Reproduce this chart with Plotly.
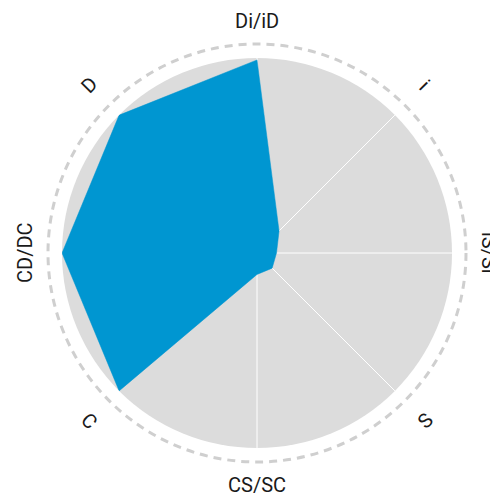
import math
import plotly.graph_objects as go

categories = ["Di/iD", "i", "iS/Si", "S", "CS/SC", "C", "CD/DC", "D"]
values = [99, 16, 10, 11, 11, 100, 100, 100]
label_angles = [0, 45, 90, 135, 180, 225, 270, 315]

# figure drawn inside the page's default 8px body margin
W, H = 490, 491
cx, cy = 249, 245
R = 195

fig = go.Figure()
fig.add_trace(go.Scatterpolar(
    r=values + [values[0]],
    theta=categories + [categories[0]],
    mode="lines",
    fill="toself",
    fillcolor="#0096D1",
    line=dict(color="#0096D1", width=0.5),
    hoverinfo="skip",
    showlegend=False,
))

fig.update_layout(
    width=W, height=H,
    margin=dict(l=0, r=0, t=0, b=0),
    paper_bgcolor="white",
    plot_bgcolor="white",
    polar=dict(
        domain=dict(x=[(cx - R) / W, (cx + R) / W], y=[1 - (cy + R) / H, 1 - (cy - R) / H]),
        bgcolor="#DCDCDC",
        radialaxis=dict(range=[0, 100], visible=False, showgrid=False),
        angularaxis=dict(
            categoryarray=categories, categoryorder="array",
            rotation=90, direction="clockwise",
            showline=False, showticklabels=False, ticks="",
            gridcolor="white", gridwidth=1,
        ),
    ),
    showlegend=False,
)

# dashed outer ring
rd = 209
fig.add_shape(
    type="circle", xref="paper", yref="paper",
    x0=(cx - rd) / W, x1=(cx + rd) / W,
    y0=1 - (cy + rd) / H, y1=1 - (cy - rd) / H,
    line=dict(color="#CFCFCF", width=3, dash="8px,6px"),
)

for cat, th in zip(categories, label_angles):
    rl = 232 if th % 90 == 0 else 237
    x = cx + rl * math.sin(math.radians(th))
    y = cy - rl * math.cos(math.radians(th))
    if 90 < th < 270:
        ang = th - 180
    elif th > 180:
        ang = th - 360
    else:
        ang = th
    fig.add_annotation(
        x=x / W, y=1 - y / H, xref="paper", yref="paper",
        text=cat, showarrow=False, textangle=ang,
        xanchor="center", yanchor="middle",
        font=dict(family="Roboto", size=20, color="#1a1a1a"),
    )

fig.write_html("out.html")
